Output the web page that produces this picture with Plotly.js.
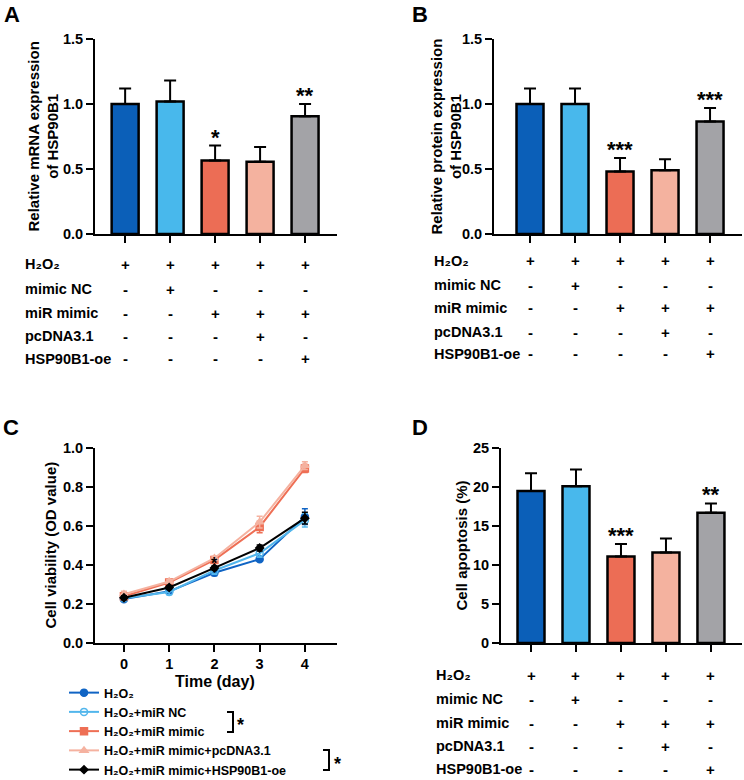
<!DOCTYPE html>
<html><head><meta charset="utf-8">
<script src="https://cdn.plot.ly/plotly-3.0.1.min.js"></script>
<style>html,body{margin:0;padding:0;background:#fff;width:744px;height:780px;overflow:hidden}
#chart{position:absolute;left:0;top:0;width:744px;height:780px}</style>
</head><body><div id="chart"></div>
<script>
// ---------- data ----------
const groupColors = ['#0b5fb8', '#48b8ec', '#ec6d55', '#f4b29f', '#a3a3a7'];
const groupIndex = [0, 1, 2, 3, 4];
const conditionLabels = ['H₂O₂', 'mimic NC', 'miR mimic', 'pcDNA3.1', 'HSP90B1-oe'];
const conditionSigns = [
  ['+', '+', '+', '+', '+'],
  ['-', '+', '-', '-', '-'],
  ['-', '-', '+', '+', '+'],
  ['-', '-', '-', '+', '-'],
  ['-', '-', '-', '-', '+']
];
const mrnaMean = [1.00, 1.02, 0.565, 0.555, 0.905];
const mrnaErr = [0.12, 0.16, 0.115, 0.115, 0.095];
const mrnaSig = ['', '', '*', '', '**'];
const proteinMean = [1.00, 1.00, 0.48, 0.49, 0.865];
const proteinErr = [0.12, 0.12, 0.105, 0.085, 0.105];
const proteinSig = ['', '', '***', '', '***'];
const apoptosisMean = [19.5, 20.1, 11.1, 11.6, 16.7];
const apoptosisErr = [2.25, 2.15, 1.6, 1.8, 1.2];
const apoptosisSig = ['', '', '***', '', '**'];

const days = [0, 1, 2, 3, 4];
const seriesNames = ['H₂O₂', 'H₂O₂+miR NC', 'H₂O₂+miR mimic', 'H₂O₂+miR mimic+pcDNA3.1', 'H₂O₂+miR mimic+HSP90B1-oe'];
const viabilityH2O2 = [0.225, 0.265, 0.36, 0.43, 0.648];
const viabilityMiRNC = [0.23, 0.262, 0.372, 0.46, 0.63];
const viabilityMimic = [0.24, 0.31, 0.426, 0.595, 0.895];
const viabilityPcDNA = [0.25, 0.315, 0.435, 0.62, 0.91];
const viabilityOE = [0.232, 0.285, 0.385, 0.487, 0.64];
const errH2O2 = [0.01, 0.012, 0.015, 0.01, 0.04];
const errMiRNC = [0.01, 0.015, 0.02, 0.02, 0.035];
const errMimic = [0.015, 0.01, 0.01, 0.03, 0.02];
const errPcDNA = [0.015, 0.01, 0.01, 0.03, 0.02];
const errOE = [0.01, 0.01, 0.01, 0.015, 0.03];
const lineColors = ['#1064c4', '#52b6ec', '#ee6f55', '#f5b2a0', '#000000'];
const lineSymbols = ['circle', 'circle-open', 'square', 'triangle-up', 'diamond'];

// ---------- helpers ----------
const W = 744, H = 780;
const X = p => p / W;
const Y = p => 1 - p / H;
const FONT = 'Arial, "Liberation Sans", "DejaVu Sans", Helvetica, sans-serif';
const f = (size, color) => ({ family: FONT, size: size, color: color || '#000', weight: 'bold' });

function barTrace(mean, err, xa, ya) {
  return {
    type: 'bar', x: groupIndex, y: mean, xaxis: xa, yaxis: ya, width: 0.6, showlegend: false,
    marker: { color: groupColors, line: { color: '#000', width: 2.5 } },
    error_y: { type: 'data', symmetric: false, array: err, arrayminus: err.map(() => 0), color: '#000', thickness: 2, width: 6 },
    hoverinfo: 'skip'
  };
}

const allViab = [viabilityH2O2, viabilityMiRNC, viabilityMimic, viabilityPcDNA, viabilityOE];
const allErr = [errH2O2, errMiRNC, errMimic, errPcDNA, errOE];
const data = [
  barTrace(mrnaMean, mrnaErr, 'x', 'y'),
  barTrace(proteinMean, proteinErr, 'x2', 'y2'),
  barTrace(apoptosisMean, apoptosisErr, 'x4', 'y4')
];
allViab.forEach((v, i) => {
  data.push({
    type: 'scatter', mode: 'lines+markers', x: days, y: v, xaxis: 'x3', yaxis: 'y3', name: seriesNames[i],
    line: { color: lineColors[i], width: 2 },
    marker: { symbol: lineSymbols[i], size: i === 4 ? 6 : 7, color: lineColors[i], line: { color: lineColors[i], width: 1.5 } },
    error_y: { type: 'data', array: allErr[i], color: lineColors[i], thickness: 1.5, width: 3 }
  });
});

function xAx(domain, range, labels) {
  return {
    domain: domain, range: range, showline: true, linecolor: '#000', linewidth: 2,
    ticks: 'outside', ticklen: 7, tickwidth: 2, tickcolor: '#000', tickvals: groupIndex,
    showticklabels: !!labels, tickfont: f(14.5), showgrid: false, zeroline: false, fixedrange: true
  };
}
function yAx(domain, range, dtick, fmt) {
  return {
    domain: domain, range: range, showline: true, linecolor: '#000', linewidth: 2,
    ticks: 'outside', ticklen: 7, tickwidth: 2, tickcolor: '#000', dtick: dtick, tick0: 0,
    tickformat: fmt, tickfont: f(14.5), showgrid: false, zeroline: false, fixedrange: true
  };
}

const annotations = [];
function ann(o) { annotations.push(Object.assign({ showarrow: false, xref: 'paper', yref: 'paper' }, o)); }

// panel letters
[['A', 12, 14], ['B', 420, 14], ['C', 11, 427], ['D', 420, 427]].forEach(p =>
  ann({ text: p[0], x: X(p[1]), y: Y(p[2]), xanchor: 'center', yanchor: 'middle', font: f(22) }));

// y titles
ann({ text: 'Relative mRNA expression<br>of HSP90B1', textangle: -90, x: X(43), y: Y(136.5), xanchor: 'center', yanchor: 'middle', font: f(15) });
ann({ text: 'Relative protein expression<br>of HSP90B1', textangle: -90, x: X(446), y: Y(136.5), xanchor: 'center', yanchor: 'middle', font: f(15) });
ann({ text: 'Cell viability (OD value)', textangle: -90, x: X(50), y: Y(545.5), xanchor: 'center', yanchor: 'middle', font: f(15) });
ann({ text: 'Cell apoptosis (%)', textangle: -90, x: X(461), y: Y(545.5), xanchor: 'center', yanchor: 'middle', font: f(15) });
ann({ text: 'Time (day)', x: X(215), y: Y(681), xanchor: 'center', yanchor: 'middle', font: f(16) });

// condition tables
function table(xref, labelX, rowYs) {
  conditionLabels.forEach((lab, r) => {
    ann({ text: lab, x: X(labelX), y: Y(rowYs[r]), xanchor: 'left', yanchor: 'middle', font: f(14.5) });
    conditionSigns[r].forEach((s, c) => {
      ann({ text: s, xref: xref, x: groupIndex[c], y: Y(rowYs[r]), xanchor: 'center', yanchor: 'middle', font: f(15) });
    });
  });
}
table('x', 23, [264, 289, 313, 336, 359]);
table('x2', 432, [261, 285, 308, 332, 354]);
table('x4', 434, [675, 699, 723, 746, 769]);

// significance stars
function stars(sig, mean, err, xref, yref) {
  sig.forEach((s, i) => {
    if (s) ann({ text: s, xref: xref, yref: yref, x: groupIndex[i], y: mean[i] + err[i], xanchor: 'center', yanchor: 'bottom', yshift: -6, font: f(22) });
  });
}
stars(mrnaSig, mrnaMean, mrnaErr, 'x', 'y');
stars(proteinSig, proteinMean, proteinErr, 'x2', 'y2');
stars(apoptosisSig, apoptosisMean, apoptosisErr, 'x4', 'y4');
ann({ text: '*', xref: 'x3', yref: 'y3', x: days[2], y: viabilityMimic[2], xanchor: 'center', yanchor: 'middle', yshift: -4, font: f(16) });

// legend brackets
ann({ text: '*', x: X(240), y: Y(721), xanchor: 'center', yanchor: 'middle', yshift: -4, font: f(18) });
ann({ text: '*', x: X(337), y: Y(760), xanchor: 'center', yanchor: 'middle', yshift: -4, font: f(18) });
const shapes = [
  { type: 'path', xref: 'paper', yref: 'paper', path: `M${X(227)},${Y(712)} L${X(233)},${Y(712)} L${X(233)},${Y(732)} L${X(227)},${Y(732)}`, line: { color: '#000', width: 2 } },
  { type: 'path', xref: 'paper', yref: 'paper', path: `M${X(323)},${Y(750)} L${X(329)},${Y(750)} L${X(329)},${Y(770)} L${X(323)},${Y(770)}`, line: { color: '#000', width: 2 } }
];

const layout = {
  width: W, height: H, autosize: false,
  margin: { l: 0, r: 0, t: 0, b: 0, pad: 0, autoexpand: false },
  paper_bgcolor: '#fff', plot_bgcolor: '#fff',
  font: f(14),
  showlegend: true,
  legend: { x: X(64), y: Y(678), xanchor: 'left', yanchor: 'top', font: f(12.5), bgcolor: 'rgba(0,0,0,0)', tracegroupgap: 0 },
  xaxis: Object.assign(xAx([X(95), X(337)], [-0.67, 4.71]), { anchor: 'y' }),
  yaxis: Object.assign(yAx([Y(234), Y(39)], [0, 1.5], 0.5, '.1f'), { anchor: 'x' }),
  xaxis2: Object.assign(xAx([X(494), X(742)], [-0.8, 4.71]), { anchor: 'y2' }),
  yaxis2: Object.assign(yAx([Y(234), Y(39)], [0, 1.5], 0.5, '.1f'), { anchor: 'x2' }),
  xaxis3: Object.assign(xAx([X(95), X(337)], [-0.64, 4.71], true), { tickvals: days, anchor: 'y3' }),
  yaxis3: Object.assign(yAx([Y(643), Y(448)], [0, 1.0], 0.2, '.1f'), { anchor: 'x3' }),
  xaxis4: Object.assign(xAx([X(501), X(742)], [-0.667, 4.69]), { anchor: 'y4' }),
  yaxis4: Object.assign(yAx([Y(643), Y(448)], [0, 25], 5, 'd'), { anchor: 'x4' }),
  annotations: annotations,
  shapes: shapes
};

Plotly.newPlot('chart', data, layout, { displayModeBar: false, staticPlot: true });
</script>
</body></html>
